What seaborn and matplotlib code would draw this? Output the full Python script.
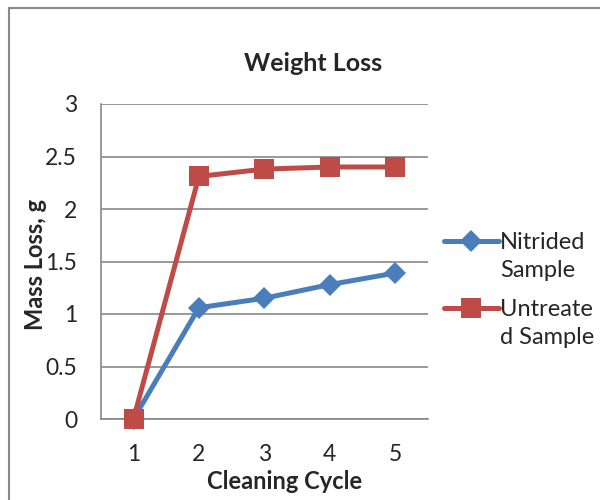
import pandas as pd
import seaborn as sns
import matplotlib.pyplot as plt
from matplotlib.patches import Rectangle

# Data
cycles = [1, 2, 3, 4, 5]
nitrided = [0.0, 1.06, 1.15, 1.28, 1.39]
untreated = [0.0, 2.31, 2.38, 2.40, 2.40]
series_names = ["Nitrided Sample", "Untreated Sample"]
legend_lines = [("Nitrided", "Sample"), ("Untreate", "d Sample")]

df = pd.DataFrame({
    "cycle": cycles * 2,
    "mass_loss": nitrided + untreated,
    "series": [series_names[0]] * 5 + [series_names[1]] * 5,
})

sns.set_style("white")
plt.rcParams["font.family"] = ["Lato", "DejaVu Sans"]

fig = plt.figure(figsize=(6, 5), dpi=100)
ax = fig.add_axes([0.168, 0.162, 0.545, 0.63])

palette = {series_names[0]: "#4a7ebb", series_names[1]: "#be4b48"}
markers = {series_names[0]: "D", series_names[1]: "s"}
sizes = {series_names[0]: 11.5, series_names[1]: 14}

for name, (first, _) in zip(series_names, legend_lines):
    sub = df[df["series"] == name]
    sns.lineplot(data=sub, x="cycle", y="mass_loss", ax=ax, color=palette[name],
                 marker=markers[name], markersize=sizes[name], markeredgewidth=0,
                 linewidth=3.6, label=first, clip_on=False, zorder=3)

ax.set_xlim(0.5, 5.5)
ax.set_ylim(0, 3)
ax.set_xticks(cycles)
ax.set_yticks([0, 0.5, 1, 1.5, 2, 2.5, 3])
ax.set_yticklabels(["0", "0.5", "1", "1.5", "2", "2.5", "3"])
ax.tick_params(axis="both", length=0, labelsize=16.5)
ax.tick_params(axis="x", pad=18)
ax.tick_params(axis="y", pad=17)
ax.grid(axis="y", color="#888888", linewidth=1.2)
ax.set_axisbelow(True)
for side in ["top", "right"]:
    ax.spines[side].set_visible(False)
for side in ["left", "bottom"]:
    ax.spines[side].set_color("#888888")
    ax.spines[side].set_linewidth(1.2)

ax.set_xlabel("Cleaning Cycle", fontsize=17, fontweight="bold", va="center")
ax.xaxis.set_label_coords(0.563, -0.197)
ax.set_ylabel("Mass Loss, g", fontsize=17, fontweight="bold", va="center")
ax.yaxis.set_label_coords(-0.2, 0.49)
fig.text(0.522, 0.873, "Weight Loss", ha="center", va="center",
         fontsize=18, fontweight="bold")

leg = ax.legend(loc="upper left", bbox_to_anchor=(1.0, 0.645), frameon=False,
                fontsize=17, handlelength=2.3, handletextpad=0.05,
                labelspacing=1.95, borderaxespad=0.3)

# second line of each wrapped legend label, placed under the first line
fig.canvas.draw()
inv = fig.transFigure.inverted()
for txt, (_, second) in zip(leg.get_texts(), legend_lines):
    bb = txt.get_window_extent()
    x0, y0 = inv.transform((bb.x0, bb.y0))
    fig.text(x0, y0 - 0.056, second, ha="left", va="bottom", fontsize=17)

# chart area border
fig.patches.append(Rectangle((9 / 600, -0.01), 1.0, 1 - 8 / 500 + 0.01,
                             transform=fig.transFigure, fill=False,
                             edgecolor="#888888", linewidth=1.5))

fig.savefig("out.png", dpi=100)
